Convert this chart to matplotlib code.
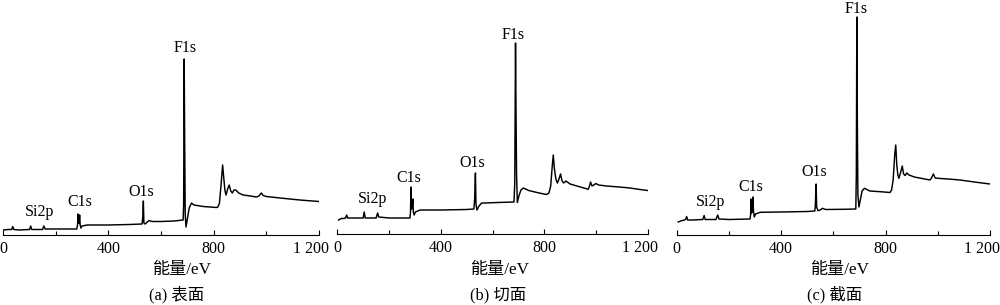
import matplotlib
matplotlib.use("Agg")
import matplotlib.pyplot as plt
from matplotlib.transforms import ScaledTranslation

plt.rcParams['font.family'] = ['Liberation Serif', 'Noto Sans CJK SC']
plt.rcParams['font.size'] = 11.5

# ---------------- data (binding energy eV, intensity a.u.) ----------------
a_energy = [0, 20, 33, 37, 41, 60, 101, 105, 109, 150, 155, 160, 200, 280, 283, 285, 287, 289,
            291, 293, 296, 300, 320, 400, 480, 528, 531, 533, 535, 540, 548, 555, 565, 600, 650,
            684, 686, 688, 690, 692, 695, 700, 707, 716, 725, 760, 811, 816, 822, 828, 834, 838,
            843, 847, 853, 859, 865, 871, 877, 884, 895, 912, 940, 962, 972, 981, 988, 1000,
            1063, 1127, 1200]
a_intensity = [5, 5.5, 5.5, 8.5, 5.5, 5, 5.5, 9, 5.5, 5.5, 9, 6, 6, 6, 10, 21, 12, 12,
               20, 10, 7, 9, 10, 10, 10.5, 11, 18, 34, 12, 11, 13, 14.5, 13.5, 13.5, 14,
               15, 30, 176, 90, 20, 8, 16, 27, 32, 30, 28.5, 27.5, 28, 32, 50, 70, 58,
               44, 40, 46, 50, 44, 42, 45, 45, 42, 40, 39, 38, 39, 42, 39.5, 38.5,
               36.7, 35, 33.5]

b_energy = [5, 15, 25, 32, 36, 40, 60, 100, 104, 108, 150, 156, 160, 200, 281, 283, 285, 287,
            290, 292, 294, 297, 302, 320, 400, 500, 528, 531, 534, 536, 540, 548, 558, 570, 620,
            683, 686, 689, 691, 693, 696, 702, 710, 719, 740, 780, 809, 818, 825, 831, 835, 839,
            845, 851, 857, 863, 869, 875, 884, 900, 913, 940, 970, 975, 979, 985, 992, 1000,
            1010, 1041, 1090, 1131, 1170, 1200]
b_intensity = [14, 15.5, 15.5, 16, 19, 16, 16, 16, 22, 16, 16, 21, 17, 16, 16, 22, 47, 25,
               28, 35, 22, 19, 22, 24, 24, 24.5, 25, 35, 61, 30, 24, 28, 31, 31, 31.5,
               32, 50, 191, 120, 60, 31.5, 38, 44, 46, 43.5, 41, 39.5, 41, 48, 68, 79, 66,
               55, 51, 55, 60, 53, 51, 53, 50, 49, 47, 44.7, 48, 52, 48, 49, 50.5,
               49, 48, 47, 46, 44.5, 43.5]

c_energy = [6, 15, 30, 35, 38, 42, 60, 100, 105, 109, 150, 157, 162, 200, 281, 283, 285, 287,
            289, 292, 294, 297, 302, 320, 400, 500, 529, 531, 534, 536, 541, 550, 558, 570, 640,
            686, 688, 690, 692, 694, 698, 704, 710, 719, 740, 780, 817, 823, 829, 835, 839, 843,
            847, 851, 857, 864, 869, 875, 881, 890, 910, 940, 970, 976, 983, 990, 1000, 1040,
            1085, 1140, 1200]
c_intensity = [13, 14, 15, 16, 18.5, 15, 15, 15.5, 19.5, 15.5, 15.5, 20, 16, 15.5, 16, 20, 36, 22,
               26, 38, 24, 18, 21, 22.7, 23, 23.5, 24, 30, 51, 28, 24.3, 25, 26.7, 25.5, 25.7,
               26, 60, 218, 110, 40, 28, 36, 44, 46.7, 44, 43.3, 42.5, 45, 55, 80, 90, 70,
               60, 56.7, 62, 69, 61, 59.5, 62, 60, 58, 56.5, 55, 57, 61, 57, 56.7, 56,
               55, 53, 51]

peak_names = ['Si2p', 'C1s', 'O1s', 'F1s']
a_label_pos = [(140, 22.7), (290, 33.3), (526, 43.3), (690, 186.7)]
b_label_pos = [(137, 35), (277, 56), (523, 71), (680, 199)]
c_label_pos = [(128, 32.7), (285, 47.7), (526, 63.3), (689, 225.7)]

tick_values = [0, 400, 800, 1200]
tick_labels = ['0', '400', '800', '1 200']
minor_ticks = [200, 600, 1000]
xlabel = '能量/eV'
subtitles = ['(a) 表面', '(b) 切面', '(c) 截面']

# ---------------- layout (pixels) ----------------
W, H = 1000, 305
panels = [
    # x0, x1200, axis_y, xlabel_x, subtitle_x
    (3, 319, 235, 182, 177),
    (337.3, 647.7, 234, 500, 498),
    (676.7, 990, 235, 840, 835),
]
datasets = [(a_energy, a_intensity, a_label_pos),
            (b_energy, b_intensity, b_label_pos),
            (c_energy, c_intensity, c_label_pos)]

fig = plt.figure(figsize=(W / 100, H / 100), dpi=100)

for (x0, x1, ay, xlx, stx), (en, inten, lpos), sub in zip(panels, datasets, subtitles):
    ax = fig.add_axes([x0 / W, (H - ay) / H, (x1 - x0) / W, ay / H])
    ax.plot(en, inten, color='black', lw=1.05)
    ax.set_xlim(0, 1200)
    ax.set_ylim(0, ay)
    for name, (px, py) in zip(peak_names, lpos):
        ax.text(px, py, name, ha='center', va='center', fontsize=11.5, clip_on=False)
    for s in ['left', 'right', 'top']:
        ax.spines[s].set_visible(False)
    ax.spines['bottom'].set_linewidth(0.8)
    ax.set_yticks([])
    ax.set_xticks(tick_values)
    ax.set_xticklabels(tick_labels)
    ax.set_xticks(minor_ticks, minor=True)
    ax.tick_params(axis='x', which='major', direction='in', length=3.5, width=0.8,
                   pad=4, labelsize=11.5)
    ax.tick_params(axis='x', which='minor', direction='in', length=3, width=0.8)
    last = ax.get_xticklabels()[-1]
    last.set_transform(last.get_transform() + ScaledTranslation(-0.08, 0, fig.dpi_scale_trans))
    ax.patch.set_alpha(0)
    fig.text(xlx / W, 1 - 270 / H, xlabel, ha='center', va='center', fontsize=12.3)
    fig.text(stx / W, 1 - 295 / H, sub, ha='center', va='center', fontsize=11.8)

fig.savefig('out.png', dpi=100)
